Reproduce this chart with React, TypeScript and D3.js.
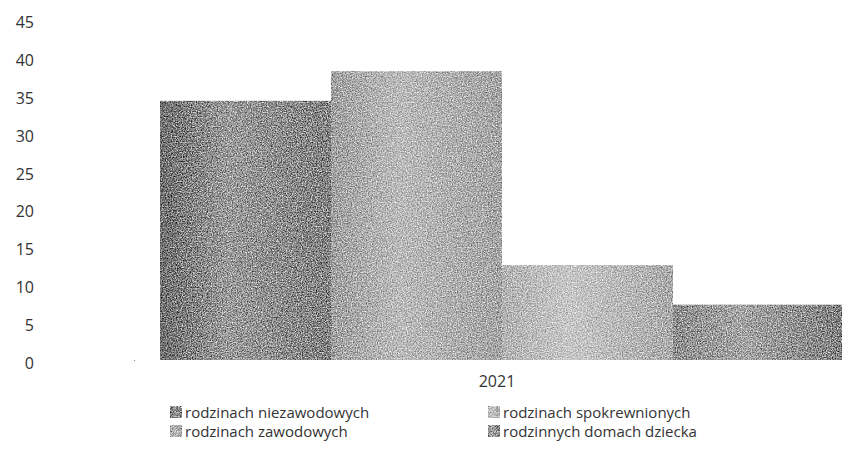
import React from "react";
import * as d3 from "d3";

const categories = ["2021"];
const seriesNames = [
  "rodzinach niezawodowych",
  "rodzinach zawodowych",
  "rodzinach spokrewnionych",
  "rodzinnych domach dziecka",
];
const seriesValues = [34.2, 38.1, 12.5, 7.3];
const yTicks = [0, 5, 10, 15, 20, 25, 30, 35, 40, 45];
const seriesColors = [
  ["#6e6e6e", "#9a9a9a", "#808080"],
  ["#a0a0a0", "#bababa", "#a4a4a4"],
  ["#b2b2b2", "#c6c6c6", "#aaaaaa"],
  ["#8e8e8e", "#a4a4a4", "#808080"],
];

export default function App() {
  const W = 842;
  const H = 457;
  const y = d3.scaleLinear().domain([0, 45]).range([360, 19]);
  const x0 = d3.scaleBand().domain(categories).range([160, 844]).padding(0);
  const x1 = d3
    .scaleBand()
    .domain(seriesNames.map((_, i) => String(i)))
    .range([0, x0.bandwidth()])
    .padding(0);
  const font = "'Open Sans', 'Noto Sans', sans-serif";

  return (
    <svg
      width={W}
      height={H}
      style={{ position: "absolute", left: 0, top: 0, background: "#fff" }}
    >
      <defs>
        <filter id="noise" x="0" y="0" width="100%" height="100%" colorInterpolationFilters="sRGB">
          <feTurbulence type="fractalNoise" baseFrequency="0.8" numOctaves="2" seed="5" result="t" />
          <feColorMatrix
            in="t"
            type="matrix"
            values="1.3 0 0 0 -0.15  1.3 0 0 0 -0.15  1.3 0 0 0 -0.15  0 0 0 0 1"
            result="g"
          />
          <feBlend in="g" in2="SourceGraphic" mode="overlay" result="b" />
          <feComposite in="b" in2="SourceGraphic" operator="in" />
        </filter>
        {seriesColors.map((c, i) => (
          <linearGradient key={i} id={`g${i}`} x1="0" x2="1" y1="0" y2="0">
            <stop offset="0" stopColor={c[0]} />
            <stop offset="0.4" stopColor={c[1]} />
            <stop offset="1" stopColor={c[2]} />
          </linearGradient>
        ))}
      </defs>

      {yTicks.map((t) => (
        <text
          key={t}
          x={34}
          y={y(t) + 3}
          textAnchor="end"
          dominantBaseline="central"
          fontFamily={font}
          fontSize={16}
          fill="#333"
        >
          {t}
        </text>
      ))}
      <rect x={134} y={360} width={1} height={1} fill="#888" />

      {categories.map((cat) => (
        <g key={cat} transform={`translate(${x0(cat)},0)`}>
          {seriesValues.map((v, i) => (
            <rect
              key={i}
              x={x1(String(i))}
              y={y(v)}
              width={x1.bandwidth()}
              height={y(0) - y(v)}
              fill={`url(#g${i})`}
              filter="url(#noise)"
            />
          ))}
          <text
            x={x0.bandwidth() / 2 - 5}
            y={381}
            textAnchor="middle"
            dominantBaseline="central"
            fontFamily={font}
            fontSize={16}
            fill="#333"
          >
            {cat}
          </text>
        </g>
      ))}

      {seriesNames.map((name, i) => {
        const col = i < 2 ? 0 : 1;
        const row = i % 2;
        const lx = col === 0 ? 170 : 488;
        const ly = 412 + row * 19;
        return (
          <g key={name}>
            <rect
              x={lx}
              y={ly - 6}
              width={12}
              height={12}
              fill={`url(#g${i})`}
              filter="url(#noise)"
            />
            <text
              x={lx + 15}
              y={ly}
              dominantBaseline="central"
              fontFamily={font}
              fontSize={15}
              fill="#333"
            >
              {name}
            </text>
          </g>
        );
      })}
    </svg>
  );
}
